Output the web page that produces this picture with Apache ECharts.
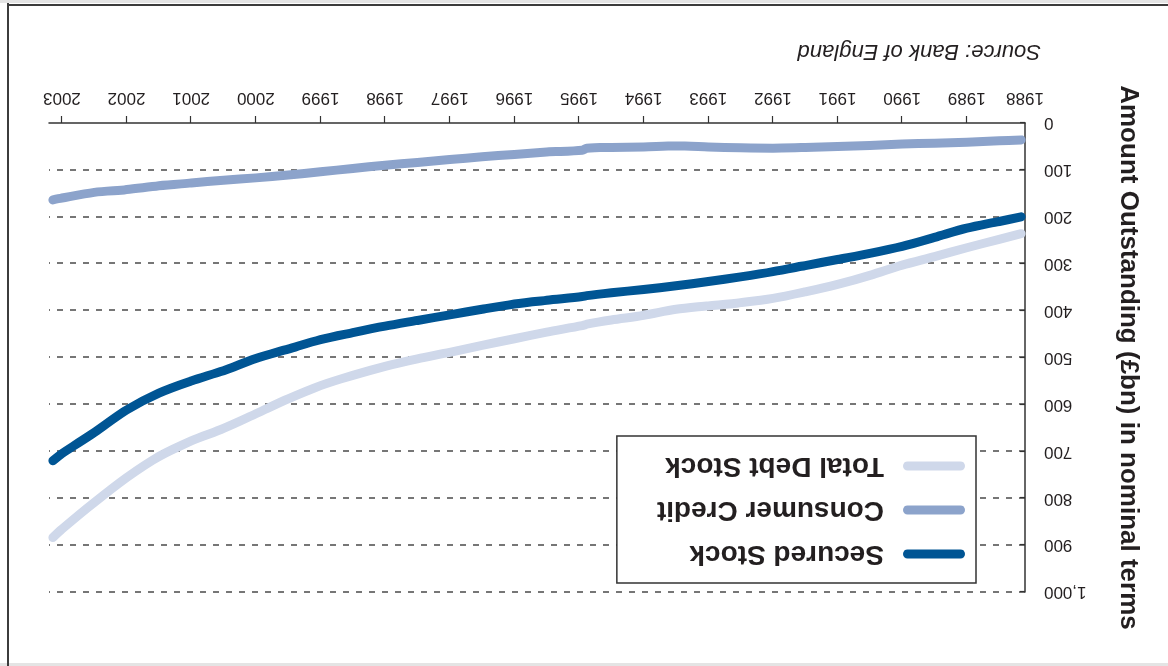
<!DOCTYPE html>
<html>
<head>
<meta charset="utf-8">
<script src="https://cdn.jsdelivr.net/npm/echarts@6/dist/echarts.min.js"></script>
<style>
  html, body { margin: 0; padding: 0; background: #ffffff; }
  /* the whole sheet is printed upside down */
  #sheet { position: relative; width: 1168px; height: 666px; overflow: hidden; background: #ffffff; transform: rotate(180deg); }
  #chart { position: absolute; left: 0; top: 0; width: 1168px; height: 666px; }
  .strip-top { position: absolute; left: 0; top: 0; width: 1168px; height: 3px; background: #e4e4e4; }
  .strip-bottom { position: absolute; left: 0; top: 663px; width: 1168px; height: 3px; background: #e4e4e4; }
  .rule-right { position: absolute; left: 1159px; top: 0; width: 2px; height: 663px; background: #3c3c3c; }
  .rule-bottom { position: absolute; left: 0; top: 660px; width: 1161px; height: 2px; background: #3c3c3c; }
</style>
</head>
<body>
<div id="sheet">
  <div class="strip-top"></div>
  <div class="strip-bottom"></div>
  <div id="chart"></div>
  <div class="rule-right"></div>
  <div class="rule-bottom"></div>
</div>
<script>
// Household debt outstanding, £bn (nominal), Bank of England
const dates = [1988.16, 1988.5, 1989, 1989.5, 1990, 1990.5, 1991, 1991.5, 1992, 1992.5,
  1993, 1993.5, 1994, 1994.5, 1994.88, 1994.95, 1995.5, 1996, 1996.5, 1997,
  1997.5, 1998, 1998.5, 1999, 1999.5, 2000, 2000.5, 2001, 2001.5, 2002,
  2002.5, 2003, 2003.14];

const securedStock = [200, 210, 224, 244, 263, 278, 291, 304, 317, 328,
  338, 347, 355, 362, 368, 370, 378, 386, 397, 409,
  421, 433, 447, 462, 482, 502, 528, 550, 576, 612,
  660, 705, 720];

const consumerCredit = [36, 38, 41, 43, 45, 48, 50, 52, 54, 53,
  51, 49, 51, 52, 54, 58, 62, 67, 72, 78,
  84, 90, 97, 104, 111, 117, 122, 128, 134, 142,
  148, 160, 164];

const totalDebtStock = [236, 248, 266, 285, 303, 325, 344, 360, 374, 383,
  390, 397, 410, 420, 429, 432, 446, 460, 474, 489,
  503, 519, 538, 560, 588, 620, 651, 678, 711, 756,
  809, 866, 884];

const years = [1988, 1989, 1990, 1991, 1992, 1993, 1994, 1995, 1996, 1997,
  1998, 1999, 2000, 2001, 2002, 2003];

const seriesNames = ['Secured Stock', 'Consumer Credit', 'Total Debt Stock'];
const seriesColors = ['#005594', '#8ca3cb', '#cfd8ea'];

const X_MIN = 1988.1;
const X_MAX = 2003.2;

const tickFont = "'Liberation Sans', Arial, sans-serif";
const boldFont = "'Liberation Sans', Arial, sans-serif";
const ink = '#231f20';

const pairs = (vals) => dates.map((d, i) => [d, vals[i]]);

const chart = echarts.init(document.getElementById('chart'), null, { renderer: 'canvas' });

const legendIcon = 'path://M4.5,0H57.5A4.5,4.5,0,0,1,57.5,9H4.5A4.5,4.5,0,0,1,4.5,0Z';

chart.setOption({
  animation: false,
  backgroundColor: 'transparent',
  title: {
    text: 'Source: Bank of England',
    left: 127,
    top: 604,
    padding: 0,
    textStyle: { fontFamily: tickFont, fontStyle: 'italic', fontWeight: 'normal', fontSize: 22, color: ink }
  },
  grid: { left: 143, right: 49, top: 74, bottom: 123, containLabel: false, outerBoundsMode: 'none' },
  legend: {
    orient: 'vertical',
    left: 192,
    top: 83,
    selectedMode: false,
    data: seriesNames.map(n => ({ name: n, icon: legendIcon })),
    itemWidth: 62,
    itemHeight: 9,
    itemGap: 16,
    padding: [15, 40, 16, 11],
    borderColor: '#333333',
    borderWidth: 1.5,
    backgroundColor: '#ffffff',
    textStyle: { fontFamily: boldFont, fontWeight: 'bold', fontSize: 28, lineHeight: 28, color: ink, padding: [0, 0, 0, 14] }
  },
  xAxis: {
    type: 'value',
    min: X_MIN,
    max: X_MAX,
    axisLine: { show: true, lineStyle: { color: '#333333', width: 1.5 } },
    axisTick: {
      show: true,
      length: 7,
      lineStyle: { color: '#333333', width: 1.2 },
      customValues: years.filter(y => y > X_MIN)
    },
    axisLabel: {
      customValues: years.map(y => Math.max(y, X_MIN)),
      formatter: v => String(Math.floor(v)),
      margin: 17,
      fontFamily: tickFont,
      fontSize: 17,
      color: ink
    },
    splitLine: { show: false }
  },
  yAxis: {
    type: 'value',
    min: 0,
    max: 1000,
    interval: 100,
    name: 'Amount Outstanding (£bn) in nominal terms',
    nameLocation: 'middle',
    nameGap: 90,
    nameTextStyle: { fontFamily: boldFont, fontWeight: 'bold', fontSize: 26, color: ink },
    axisLine: { show: true, lineStyle: { color: '#333333', width: 1.5 } },
    axisTick: { show: true, inside: true, length: 5, lineStyle: { color: '#333333', width: 1.2 } },
    axisLabel: {
      margin: 19,
      fontFamily: tickFont,
      fontSize: 17,
      color: ink,
      formatter: v => v.toLocaleString('en-GB')
    },
    splitLine: { show: true, showMinLine: false, lineStyle: { color: '#4a4a4a', width: 1.5, type: [6, 7] } }
  },
  series: [
    { name: seriesNames[0], data: pairs(securedStock) },
    { name: seriesNames[1], data: pairs(consumerCredit) },
    { name: seriesNames[2], data: pairs(totalDebtStock) }
  ].map((s, i) => Object.assign(s, {
    type: 'line',
    showSymbol: false,
    symbol: 'none',
    smooth: 0.3,
    itemStyle: { color: seriesColors[i] },
    lineStyle: { color: seriesColors[i], width: 9, cap: 'round', join: 'round' },
    emphasis: { disabled: true },
    z: 3 - i
  }))
});
</script>
</body>
</html>
